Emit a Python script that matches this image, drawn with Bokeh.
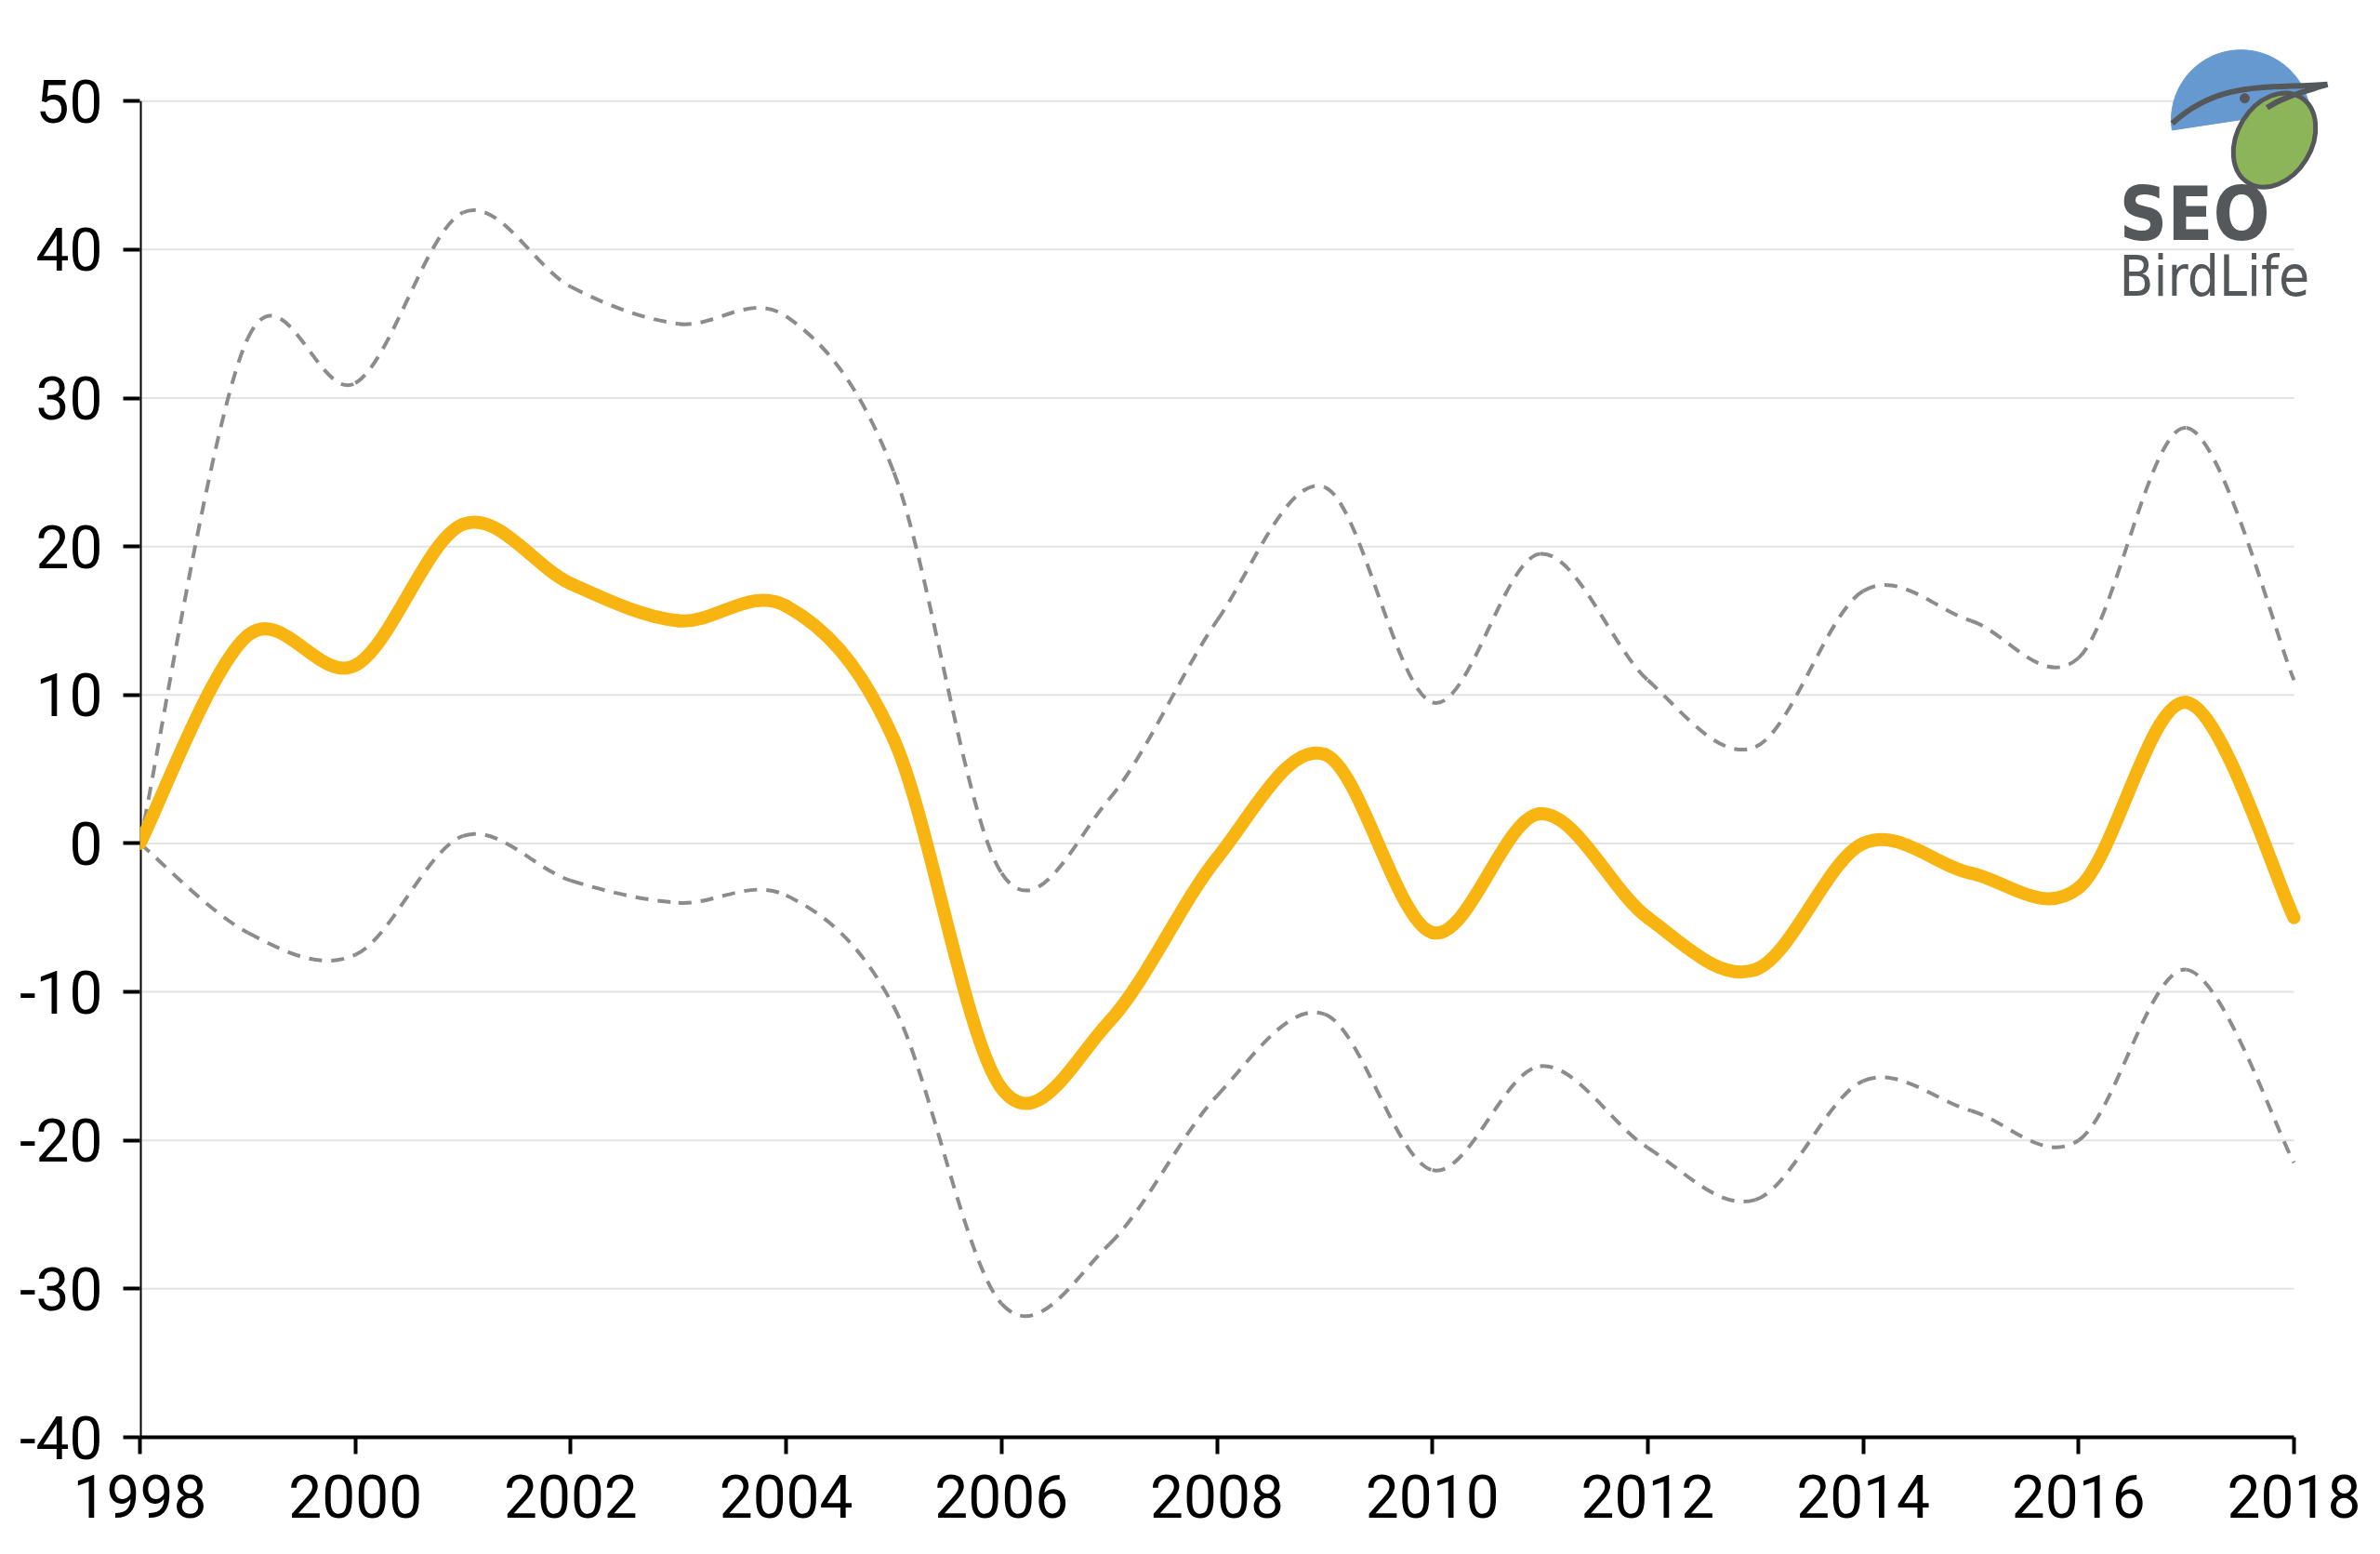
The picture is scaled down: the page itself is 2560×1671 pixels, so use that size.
import numpy as np
from bokeh.plotting import figure
from bokeh.models import FixedTicker
from bokeh.core.properties import value
from bokeh.embed import file_html
from bokeh.resources import INLINE

years = list(range(1998, 2019))
trend = [0, 14, 12, 21.5, 17.5, 15, 16, 7, -16.5, -12, -1, 6, -6, 2, -5, -8.5, 0, -2, -3, 9.5, -5]
upper = [0, 34, 31, 42.5, 37.5, 35, 35.5, 25, -2, 3, 15, 24, 9.5, 19.5, 11, 6.5, 17, 15, 12.5, 28, 11]
lower = [0, -6, -7.5, 0.5, -2.5, -4, -3.5, -11, -31, -27, -17, -11.5, -22, -15, -20.5, -24, -16, -18, -20, -8.5, -21.5]
y_ticks = list(range(-40, 60, 10))
x_ticks = list(range(1998, 2020, 2))

PX = 2317  # pixels per 20 years


def smooth(xs, ys):
    # catmull-rom -> bezier control points, drawn by p.bezier
    x = np.array(xs, float); y = np.array(ys, float)
    xp = np.concatenate([[x[0]], x, [x[-1]]]); yp = np.concatenate([[y[0]], y, [y[-1]]])
    d = dict(x0=[], y0=[], x1=[], y1=[], cx0=[], cy0=[], cx1=[], cy1=[])
    for i in range(len(x) - 1):
        d["x0"].append(x[i]); d["y0"].append(y[i]); d["x1"].append(x[i + 1]); d["y1"].append(y[i + 1])
        d["cx0"].append(x[i] + (xp[i + 2] - xp[i]) / 6); d["cy0"].append(y[i] + (yp[i + 2] - yp[i]) / 6)
        d["cx1"].append(x[i + 1] - (xp[i + 3] - xp[i + 1]) / 6); d["cy1"].append(y[i + 1] - (yp[i + 3] - yp[i + 1]) / 6)
    return d


# extra room right of 2018 so the logo is not clipped
p = figure(frame_width=PX + 60, frame_height=1515, x_range=(1998, 1998 + (PX + 60) * 20 / PX), y_range=(-40, 54.9),
           min_border_left=150, min_border_top=30, min_border_right=20, min_border_bottom=110,
           output_backend="svg", toolbar_location=None, background_fill_color="white")
p.outline_line_color = None
p.grid.grid_line_color = None
p.segment(x0=1998, x1=2018, y0=y_ticks[1:], y1=y_ticks[1:], line_color="#e3e3e3", line_width=2)
p.xaxis.bounds = (1998, 2018)
for ax in (p.xaxis, p.yaxis):
    ax.axis_line_width = 4
    ax.axis_line_color = "black"
    ax.major_tick_line_width = 4
    ax.major_tick_out = 18
    ax.major_tick_in = 0
    ax.minor_tick_line_color = None
    ax.major_label_text_font = "Roboto"
    ax.major_label_text_font_size = "64px"
    ax.major_label_text_color = "black"
p.xaxis.ticker = FixedTicker(ticks=x_ticks)
p.yaxis.ticker = FixedTicker(ticks=y_ticks)
p.yaxis.major_label_overrides = {t: str(t) for t in y_ticks}
p.yaxis.axis_line_color = None
p.xaxis.major_label_standoff = 22
p.yaxis.major_label_standoff = 22
p.segment(x0=[1998], y0=[-40], x1=[1998], y1=[50], line_color="black", line_width=4)

for band in (upper, lower):
    p.bezier(source=smooth(years, band), x0="x0", y0="y0", x1="x1", y1="y1",
             cx0="cx0", cy0="cy0", cx1="cx1", cy1="cy1",
             line_color="#8c8c8c", line_width=4, line_dash="14 10")
p.bezier(source=smooth(years, trend), x0="x0", y0="y0", x1="x1", y1="y1",
         cx0="cx0", cy0="cy0", cx1="cx1", cy1="cy1",
         line_color="#f8b511", line_width=14, line_cap="round")

# logo (pixel positions converted to data coords)
def px(x):
    return 1998 + (x - 152) * 20 / PX


def py(y):
    return 50 - (y - 108) * 90 / 1440


p.wedge(x=[px(2412)], y=[py(128)], radius=75, radius_units="screen",
        start_angle=0.1, end_angle=np.pi + 0.15, color="#6699d0")
p.ellipse(x=[px(2448)], y=[py(150)], width=80, height=108, angle=-0.55,
          width_units="screen", height_units="screen",
          fill_color="#8cb55a", line_color="#55585b", line_width=5)
p.bezier(x0=[px(2338)], y0=[py(132)], x1=[px(2505)], y1=[py(90)],
         cx0=[px(2390)], cy0=[py(85)], cx1=[px(2440)], cy1=[py(95)],
         line_color="#55585b", line_width=6)
p.bezier(x0=[px(2505)], y0=[py(90)], x1=[px(2440)], y1=[py(115)],
         cx0=[px(2480)], cy0=[py(98)], cx1=[px(2460)], cy1=[py(102)],
         line_color="#55585b", line_width=6)
p.scatter(x=[px(2416)], y=[py(105)], size=10, color="#55585b")
p.text(x=[px(2281)], y=[py(230)], text=["SEO"], text_font=value("DejaVu Sans Condensed"),
       text_font_style="bold", text_font_size="80px", text_color="#55585b", text_baseline="alphabetic")
p.text(x=[px(2281)], y=[py(297)], text=["BirdLife"], text_font=value("DejaVu Sans Condensed"),
       text_font_size="60px", text_color="#55585b", text_baseline="alphabetic")

open("out.html", "w").write(file_html(p, INLINE))
